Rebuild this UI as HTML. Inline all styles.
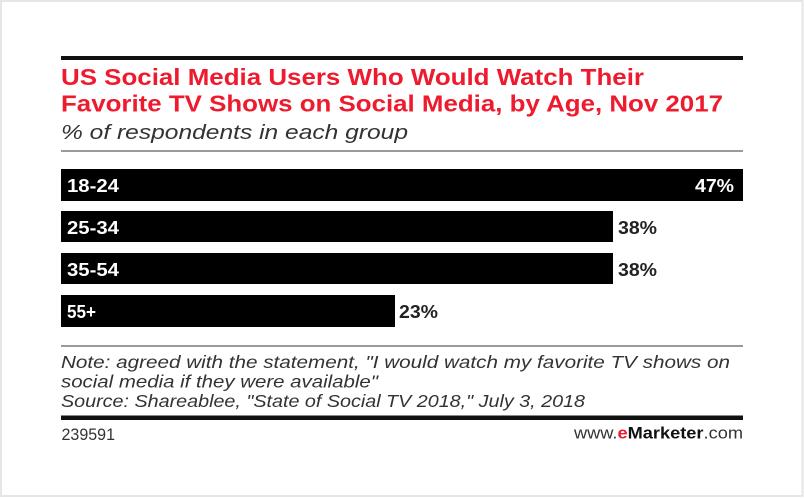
<!DOCTYPE html>
<html>
<head>
<meta charset="utf-8">
<style>
  html, body { margin: 0; padding: 0; background: #ffffff; }
  body { width: 804px; height: 498px; overflow: hidden; }
  svg { display: block; font-family: "Liberation Sans", Arial, sans-serif; }
</style>
</head>
<body>
<svg width="804" height="498" viewBox="0 0 804 498" xmlns="http://www.w3.org/2000/svg">
  <rect x="0" y="0" width="804" height="498" fill="#ffffff"/>
  <rect x="1" y="1" width="801.5" height="495" fill="none" stroke="#e6e6e6" stroke-width="2"/>

  <!-- top rule -->
  <rect x="61" y="56" width="682" height="4" fill="#111"/>

  <!-- title -->
  <text x="61" y="85" font-size="23" font-weight="bold" fill="#ee1a2e" textLength="583" lengthAdjust="spacingAndGlyphs">US Social Media Users Who Would Watch Their</text>
  <text x="61" y="111.5" font-size="23" font-weight="bold" fill="#ee1a2e" textLength="662" lengthAdjust="spacingAndGlyphs">Favorite TV Shows on Social Media, by Age, Nov 2017</text>
  <text x="61" y="139" font-size="20" font-style="italic" fill="#333" textLength="347" lengthAdjust="spacingAndGlyphs">% of respondents in each group</text>

  <!-- gray rule -->
  <rect x="61" y="150" width="682" height="2" fill="#9a9a9a"/>

  <!-- bars -->
  <rect x="61" y="169" width="682" height="32" fill="#000"/>
  <rect x="61" y="211" width="552" height="31" fill="#000"/>
  <rect x="61" y="253" width="552" height="31" fill="#000"/>
  <rect x="61" y="295" width="334" height="32" fill="#000"/>

  <!-- category labels -->
  <g font-size="18" font-weight="bold" fill="#fff">
    <text x="67" y="192" textLength="52" lengthAdjust="spacingAndGlyphs">18-24</text>
    <text x="67" y="234" textLength="52" lengthAdjust="spacingAndGlyphs">25-34</text>
    <text x="67" y="276" textLength="52" lengthAdjust="spacingAndGlyphs">35-54</text>
    <text x="67" y="318" textLength="29" lengthAdjust="spacingAndGlyphs">55+</text>
  </g>

  <!-- value labels -->
  <g font-size="18.5" font-weight="bold">
    <text x="695" y="192" fill="#fff" textLength="39" lengthAdjust="spacingAndGlyphs">47%</text>
    <text x="618" y="234" fill="#222" textLength="39" lengthAdjust="spacingAndGlyphs">38%</text>
    <text x="618" y="276" fill="#222" textLength="39" lengthAdjust="spacingAndGlyphs">38%</text>
    <text x="399" y="318" fill="#222" textLength="39" lengthAdjust="spacingAndGlyphs">23%</text>
  </g>

  <!-- gray rule above notes -->
  <rect x="61" y="345" width="682" height="2" fill="#9a9a9a"/>

  <!-- notes -->
  <g font-size="17.5" font-style="italic" fill="#333">
    <text x="61" y="368" textLength="669" lengthAdjust="spacingAndGlyphs">Note: agreed with the statement, "I would watch my favorite TV shows on</text>
    <text x="61" y="387.5" textLength="317" lengthAdjust="spacingAndGlyphs">social media if they were available"</text>
    <text x="61" y="407" textLength="524" lengthAdjust="spacingAndGlyphs">Source: Shareablee, "State of Social TV 2018," July 3, 2018</text>
  </g>

  <!-- black rule -->
  <rect x="61" y="415.5" width="682" height="4.5" fill="#111"/>

  <!-- footer -->
  <text x="61.5" y="440" font-size="16.5" fill="#333" textLength="53.5" lengthAdjust="spacingAndGlyphs">239591</text>
  <text x="574" y="438.5" font-size="16.5" fill="#333" textLength="169" lengthAdjust="spacingAndGlyphs">www.<tspan fill="#ee1a2e" font-weight="bold">e</tspan><tspan fill="#111" font-weight="bold">Marketer</tspan>.com</text>
</svg>
</body>
</html>
